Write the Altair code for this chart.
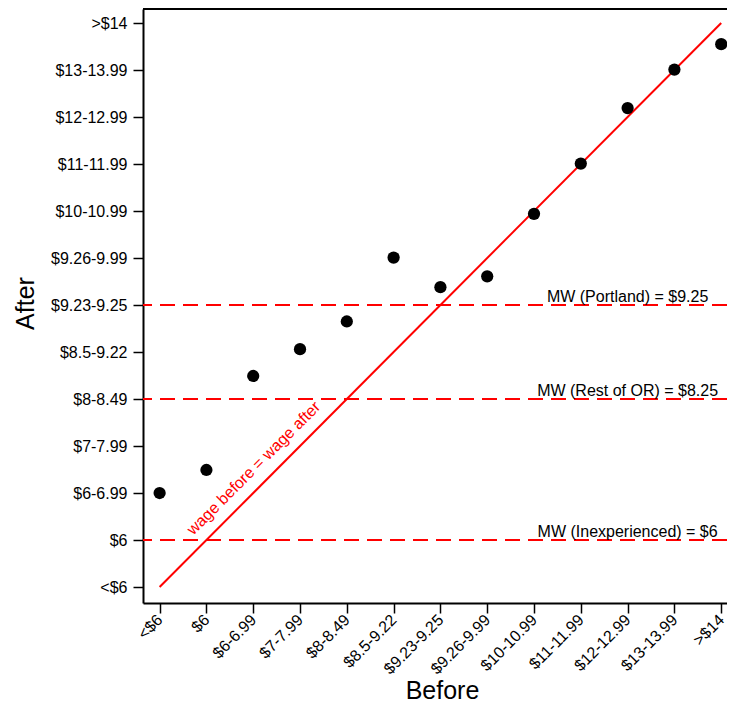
import altair as alt
import pandas as pd

wage_bins = ["<$6", "$6", "$6-6.99", "$7-7.99", "$8-8.49", "$8.5-9.22", "$9.23-9.25",
             "$9.26-9.99", "$10-10.99", "$11-11.99", "$12-12.99", "$13-13.99", ">$14"]
before_idx = list(range(13))
after_idx = [2.0, 2.49, 4.49, 5.06, 5.65, 7.01, 6.38, 6.61, 7.94, 9.01, 10.19, 11.01, 11.55]

mw_levels = [1, 4, 6]
mw_labels = ["MW (Inexperienced) = $6", "MW (Rest of OR) = $8.25", "MW (Portland) = $9.25"]

pts = pd.DataFrame({"before": before_idx, "after": after_idx})
diag = pd.DataFrame({"before": [0, 12], "after": [0, 12]})
mw = pd.DataFrame({"y": mw_levels, "label": mw_labels, "x": [10] * 3})
diag_lab = pd.DataFrame({"x": [2.27], "y": [2.27], "t": ["wage before = wage after"]})

label_expr = "[" + ",".join("'" + s + "'" for s in wage_bins) + "][round(datum.value)]"

FONT = "Liberation Sans"
W, H = 584, 594
xs = alt.Scale(domain=[-0.355, -0.355 + W / 46.8], nice=False, zero=False)
ys = alt.Scale(domain=[-0.34, -0.34 + H / 47], nice=False, zero=False)

xaxis = alt.Axis(values=before_idx, labelExpr=label_expr, title="Before",
                 labelAngle=315, labelAlign="right", labelBaseline="middle",
                 labelFontSize=16, labelFont=FONT, labelColor="black", labelPadding=4,
                 tickSize=10, tickWidth=1.5, tickColor="black",
                 domainColor="black", domainWidth=2, grid=False,
                 titleFont=FONT, titleFontSize=25, titleFontWeight="normal", titleColor="black",
                 titleX=299, titleY=95, titleAlign="center", titleBaseline="alphabetic",
                 labelOverlap=False)
yaxis = alt.Axis(values=before_idx, labelExpr=label_expr, title="After",
                 labelFontSize=16, labelFont=FONT, labelColor="black", labelPadding=6,
                 tickSize=10, tickWidth=1.5, tickColor="black",
                 domainColor="black", domainWidth=2, grid=False,
                 titleFont=FONT, titleFontSize=25, titleFontWeight="normal", titleColor="black",
                 titleAngle=270, titleX=-110, titleY=294, titleAlign="center",
                 titleBaseline="alphabetic", labelOverlap=False)

points = alt.Chart(pts).mark_point(filled=True, color="black", size=150, opacity=1).encode(
    x=alt.X("before:Q", scale=xs, axis=xaxis),
    y=alt.Y("after:Q", scale=ys, axis=yaxis),
)

line = alt.Chart(diag).mark_line(color="#ff0000", strokeWidth=2).encode(
    x=alt.X("before:Q", scale=xs), y=alt.Y("after:Q", scale=ys))

rules = alt.Chart(mw).mark_rule(color="#ff0000", strokeWidth=2, strokeDash=[15, 8]).encode(
    y=alt.Y("y:Q", scale=ys))

rule_text = alt.Chart(mw).mark_text(font=FONT, fontSize=16, color="black", align="center",
                                    baseline="alphabetic", dy=-3).encode(
    x=alt.X("x:Q", scale=xs), y=alt.Y("y:Q", scale=ys), text="label:N")

dtext = alt.Chart(diag_lab).mark_text(font=FONT, fontSize=16, color="#ff0000", align="center",
                                      baseline="alphabetic", angle=315, dy=-12).encode(
    x=alt.X("x:Q", scale=xs), y=alt.Y("y:Q", scale=ys), text="t:N")

top = alt.Chart(pts).mark_rule(color="black", strokeWidth=1.5).encode(y=alt.value(0))

chart = alt.layer(rules, line, points, rule_text, dtext, top).properties(
    width=W, height=H,
    autosize=alt.AutoSizeParams(type="none"),
    padding={"left": 135, "top": 1, "right": 0, "bottom": 101},
).configure_view(stroke=None)

chart.save("out.html", embed_options={"renderer": "svg", "actions": False})
